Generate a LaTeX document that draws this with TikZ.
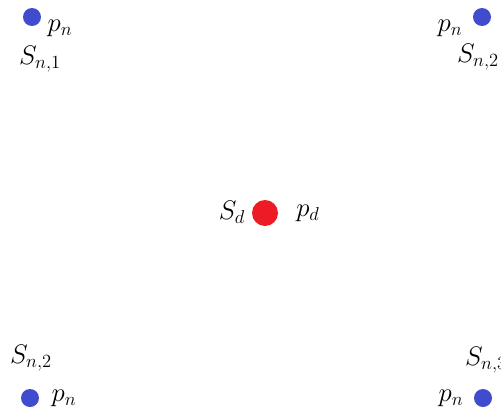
\documentclass[tikz,border=0pt]{standalone}
\usepackage{amsmath}
\definecolor{dotblue}{RGB}{65,75,205}
\definecolor{dotred}{RGB}{237,28,36}
\newcommand{\lbltext}[1]{\scalebox{1.55}{\LARGE$#1$}}
\begin{document}
\begin{tikzpicture}[x=1pt,y=-1pt,
  node dot/.style={circle,fill=dotblue,draw=none,minimum size=18pt,inner sep=0pt},
  dest dot/.style={circle,fill=dotred,draw=none,minimum size=26pt,inner sep=0pt},
  lbl/.style={inner sep=0pt}]
\useasboundingbox (0,0) rectangle (501,410);
\clip (0,0) rectangle (501,410);
\node[node dot] (n1) at (32,17) {};
\node[node dot] (n2) at (482,17) {};
\node[node dot] (n3) at (30,398) {};
\node[node dot] (n4) at (483,398) {};
\node[dest dot] (d) at (265,213) {};
\node[lbl] (p1) at (60,28) {\lbltext{p_n}};
\node[lbl] (s1) at (40,59) {\lbltext{S_{n,1}}};
\node[lbl] (p2) at (450,28) {\lbltext{p_n}};
\node[lbl] (s2) at (478,57) {\lbltext{S_{n,2}}};
\node[lbl] (sd) at (232,212) {\lbltext{S_d}};
\node[lbl] (pd) at (308,213) {\lbltext{p_d}};
\node[lbl] (s3) at (31,358) {\lbltext{S_{n,2}}};
\node[lbl] (p3) at (64,398) {\lbltext{p_n}};
\node[lbl] (s4) at (486,360) {\lbltext{S_{n,3}}};
\node[lbl] (p4) at (451,398) {\lbltext{p_n}};
\end{tikzpicture}
\end{document}
